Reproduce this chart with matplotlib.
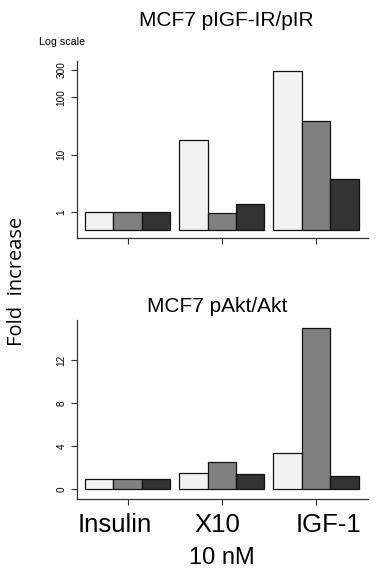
import numpy as np
import matplotlib
matplotlib.use('Agg')
import matplotlib.pyplot as plt

# data
groups = ['Insulin', 'X10', 'IGF-1']
igf_ir = [[1.0, 1.0, 1.0],      # light, mid, dark bar per group
          [18.0, 0.96, 1.38],
          [290.0, 39.0, 3.8]]
akt = [[1.0, 1.0, 1.0],
       [1.55, 2.5, 1.42],
       [3.4, 15.0, 1.27]]
bar_colors = ['#f2f2f2', '#808080', '#333333']
log_ticks = [1, 10, 100, 300]
lin_ticks = [0, 4, 8, 12]

plt.rcParams['font.family'] = ['Liberation Sans', 'DejaVu Sans']

W, H = 386, 577
fig = plt.figure(figsize=(W / 100, H / 100), dpi=100)

def px_axes(x0, y0, x1, y1):
    return fig.add_axes([x0 / W, 1 - y1 / H, (x1 - x0) / W, (y1 - y0) / H])

ax1 = px_axes(77, 61, 368, 238)
ax2 = px_axes(77, 320, 368, 499)

gap = 3.32
centers = np.arange(len(groups)) * gap


def draw(ax, vals, bottom):
    vals = np.array(vals)
    for j in range(3):
        x = centers + (j - 1)
        h = vals[:, j] - bottom
        ax.bar(x, h, width=1.0, bottom=bottom, color=bar_colors[j],
               edgecolor='#111111', linewidth=0.9, zorder=2)
    ax.set_xlim(-1.78, 8.47)
    for s in ['top', 'right']:
        ax.spines[s].set_visible(False)
    for s in ['left', 'bottom']:
        ax.spines[s].set_color('#333333')
        ax.spines[s].set_linewidth(0.9)
    ax.set_xticks(centers)
    ax.set_xticklabels([])
    ax.tick_params(axis='both', length=4.3, width=0.8, color='#333333',
                   direction='out')
    ax.tick_params(axis='y', labelsize=7.2, pad=3.2, labelrotation=90)


# top panel: log scale
draw(ax1, igf_ir, 0.49)
ax1.set_yscale('log')
ax1.set_ylim(0.357, 427)
ax1.set_yticks(log_ticks)
ax1.set_yticklabels([str(t) for t in log_ticks], va='center')
ax1.yaxis.set_minor_locator(matplotlib.ticker.NullLocator())

# bottom panel: linear
draw(ax2, akt, 0.0)
ax2.set_ylim(-0.9, 15.75)
ax2.set_yticks(lin_ticks)
ax2.set_yticklabels([str(t) for t in lin_ticks], va='center')

# group names sit a little off the ticks in the original
label_x = [115, 217, 329]
for name, lx in zip(groups, label_x):
    fig.text(lx / W, 1 - 525 / H, name, fontsize=18.5, ha='center', va='center')

fig.text(226 / W, 1 - 20 / H, 'MCF7 pIGF-IR/pIR', fontsize=15,
         ha='center', va='center')
fig.text(217 / W, 1 - 307 / H, 'MCF7 pAkt/Akt', fontsize=15,
         ha='center', va='center')
fig.text(39 / W, 1 - 42 / H, 'Log scale', fontsize=7.7, ha='left', va='center')
fig.text(222 / W, 1 - 558 / H, '10 nM', fontsize=17, ha='center', va='center')
fig.text(17 / W, 1 - 281 / H, 'Fold  increase', fontsize=14.5, rotation=90,
         ha='center', va='center', family=['Open Sans', 'DejaVu Sans'])

fig.savefig('out.png', dpi=100)
